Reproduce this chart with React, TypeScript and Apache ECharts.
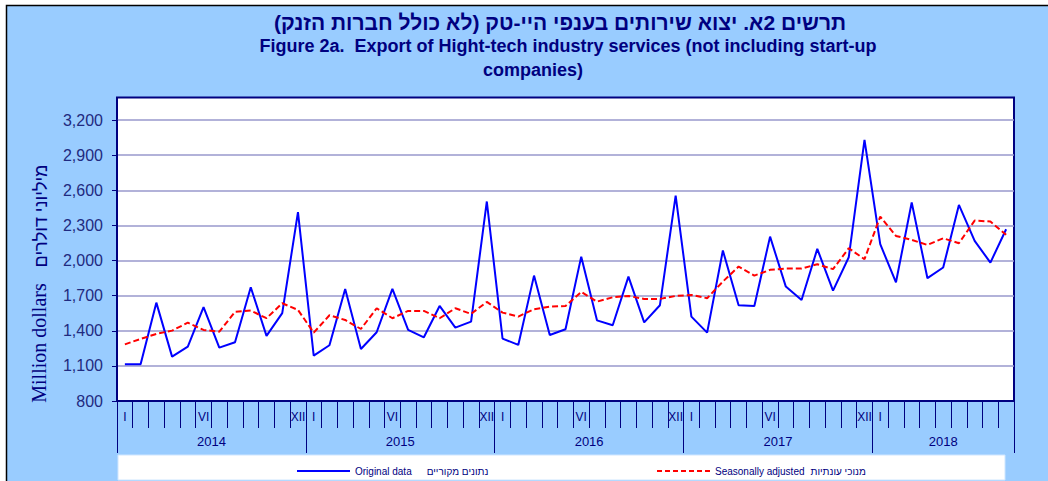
import React, { useEffect, useRef } from 'react';
import * as echarts from 'echarts';

// ---- data ----
const years = ['2014', '2015', '2016', '2017', '2018'];
const monthsPerYear = [12, 12, 12, 12, 9];
const monthTickLabels = ['I', '', '', '', '', 'VI', '', '', '', '', '', 'XII'];
const lastYearTickLabels = ['I', '', '', '', '', '', '', '', ''];

const originalData = [
  1113, 1113, 1640, 1179, 1264, 1601, 1256, 1302, 1772, 1356, 1550, 2413,
  1187, 1276, 1757, 1244, 1387, 1757, 1407, 1344, 1612, 1427, 1478, 2504,
  1333, 1279, 1871, 1364, 1413, 2033, 1489, 1447, 1862, 1472, 1618, 2555,
  1521, 1384, 2085, 1618, 1612, 2204, 1777, 1663, 2099, 1743, 2028, 3031,
  2139, 1814, 2495, 1849, 1940, 2475, 2168, 1982, 2267,
];

const seasonallyAdjusted = [
  1284, 1330, 1373, 1401, 1469, 1407, 1392, 1561, 1572, 1507, 1635, 1578,
  1384, 1532, 1492, 1415, 1592, 1507, 1569, 1569, 1507, 1592, 1544, 1646,
  1555, 1521, 1584, 1606, 1612, 1732, 1649, 1686, 1697, 1672, 1672, 1697,
  1706, 1678, 1820, 1948, 1871, 1920, 1931, 1931, 1968, 1926, 2105, 2011,
  2375, 2210, 2176, 2133, 2190, 2148, 2341, 2333, 2219,
];

const yMin = 800;
const yMax = 3200;
const yInterval = 300;

const titleHe = 'תרשים 2א. יצוא שירותים בענפי היי-טק (לא כולל חברות הזנק)';
const titleEn1 = 'Figure 2a.  Export of Hight-tech industry services (not including start-up';
const titleEn2 = 'companies)';
const yNameEn = 'Million dollars';
const yNameHe = 'מיליוני דולרים';
const legendHe = { 'Original data': 'נתונים מקוריים', 'Seasonally adjusted': 'מנוכי עונתיות' } as Record<string, string>;

// ---- derived ----
const months: string[] = [];
const monthLabels: string[] = [];
years.forEach((y, yi) => {
  const labs = yi === years.length - 1 ? lastYearTickLabels : monthTickLabels;
  for (let m = 0; m < monthsPerYear[yi]; m++) {
    months.push(`${y}-${m + 1}`);
    monthLabels.push(labs[m]);
  }
});
const halfCats = Array.from({ length: months.length * 2 + 1 }, (_, j) => String(j));
const yearBounds: number[] = [0];
monthsPerYear.forEach((n, i) => yearBounds.push(yearBounds[i] + n * 2));
const yearCenters = years.map((_, i) => (yearBounds[i] + yearBounds[i + 1]) / 2);

const NAVY = '#000080';
const FONT = 'Arial, "Liberation Sans", "DejaVu Sans", sans-serif';

const solidIcon = 'path://M0,0h53v2h-53z';
const dashedIcon = 'path://M0,0h5v2h-5z M8,0h5v2h-5z M16,0h5v2h-5z M24,0h5v2h-5z M32,0h5v2h-5z M40,0h5v2h-5z M48,0h5v2h-5z';

export default function App() {
  const ref = useRef<HTMLDivElement>(null);
  useEffect(() => {
    if (!ref.current) return;
    const chart = echarts.init(ref.current, undefined, { renderer: 'svg' });
    const rlm = '\u200F';
    chart.setOption({
      animation: false,
      backgroundColor: '#ffffff',
      grid: { left: 117, right: 34, top: 120, bottom: 80, containLabel: false },
      graphic: [
        { type: 'rect', z: -100, shape: { x: 6.5, y: 5.5, width: 1200, height: 600 }, style: { fill: '#99CCFF', stroke: '#000', lineWidth: 1.5 } },
        { type: 'rect', z: -50, shape: { x: 117, y: 97.5, width: 897, height: 303.5 }, style: { fill: '#ffffff', stroke: NAVY, lineWidth: 2 } },
        { type: 'rect', z: -50, shape: { x: 118, y: 455, width: 887, height: 25 }, style: { fill: '#ffffff', stroke: '#cfe6ff', lineWidth: 1 } },
        { type: 'text', x: 560, y: 22, style: { text: rlm + titleHe + rlm, fill: NAVY, font: `bold 21px ${FONT}`, align: 'center', verticalAlign: 'middle' } },
        { type: 'text', x: 568, y: 46, style: { text: titleEn1, fill: NAVY, font: `bold 18px ${FONT}`, align: 'center', verticalAlign: 'middle' } },
        { type: 'text', x: 533, y: 70, style: { text: titleEn2, fill: NAVY, font: `bold 18px ${FONT}`, align: 'center', verticalAlign: 'middle' } },
        { type: 'text', x: 39, y: 343, rotation: Math.PI / 2, style: { text: yNameEn, fill: NAVY, font: `20px "Liberation Serif", "Times New Roman", serif`, align: 'center', verticalAlign: 'middle' } },
        { type: 'text', x: 41, y: 216, rotation: Math.PI / 2, style: { text: yNameHe, fill: NAVY, font: `18px ${FONT}`, align: 'center', verticalAlign: 'middle' } },
      ],
      legend: [
        {
          data: ['Original data'], left: 292, top: 461, itemWidth: 53, itemHeight: 2, itemGap: 0,
          icon: solidIcon,
          textStyle: { color: NAVY, fontFamily: FONT, fontSize: 10, rich: { he: { padding: [0, 0, 0, 15], fontSize: 10, color: NAVY, fontFamily: FONT } } },
          formatter: (name: string) => `${name}{he|${legendHe[name]}}`,
        },
        {
          data: ['Seasonally adjusted'], left: 652, top: 461, itemWidth: 53, itemHeight: 2, itemGap: 0,
          icon: dashedIcon,
          textStyle: { color: NAVY, fontFamily: FONT, fontSize: 10, rich: { he: { padding: [0, 0, 0, 6], fontSize: 10, color: NAVY, fontFamily: FONT } } },
          formatter: (name: string) => `${name}{he|${legendHe[name]}}`,
        },
      ],
      xAxis: [
        {
          type: 'category',
          data: months,
          boundaryGap: true,
          axisLine: { show: true, lineStyle: { color: NAVY, width: 2 } },
          axisTick: { show: true, interval: 0, length: 27, lineStyle: { color: NAVY, width: 1 } },
          axisLabel: {
            interval: 0,
            margin: 10,
            color: NAVY,
            fontFamily: FONT,
            fontSize: 12,
            formatter: (v: string) => monthLabels[months.indexOf(v)] ?? '',
          },
          splitLine: { show: false },
        },
        {
          type: 'category',
          data: halfCats,
          boundaryGap: false,
          position: 'bottom',
          axisLine: { show: false },
          axisTick: { show: true, length: 52, interval: (i: number) => yearBounds.includes(i), lineStyle: { color: NAVY, width: 1 } },
          axisLabel: {
            margin: 34,
            color: NAVY,
            fontFamily: FONT,
            fontSize: 13,
            interval: (i: number) => yearCenters.includes(i),
            formatter: (v: string) => {
              const k = yearCenters.indexOf(Number(v));
              return k >= 0 ? years[k] : '';
            },
          },
          splitLine: { show: false },
        },
      ],
      yAxis: {
        type: 'value',
        min: yMin,
        max: yMax,
        interval: yInterval,
        axisLine: { show: true, lineStyle: { color: NAVY, width: 2 } },
        axisTick: { show: true, length: 5, lineStyle: { color: NAVY } },
        axisLabel: {
          margin: 14,
          color: '#1f2a80',
          fontFamily: FONT,
          fontSize: 16,
          formatter: (v: number) => v.toLocaleString('en-US'),
        },
        splitLine: { show: true, lineStyle: { color: '#9999cc', width: 1.5 } },
      },
      series: [
        {
          name: 'Original data',
          type: 'line',
          xAxisIndex: 0,
          data: originalData,
          symbol: 'none',
          lineStyle: { color: '#0000ff', width: 2 },
          itemStyle: { color: '#0000ff' },
          z: 3,
        },
        {
          name: 'Seasonally adjusted',
          type: 'line',
          xAxisIndex: 0,
          data: seasonallyAdjusted,
          symbol: 'none',
          lineStyle: { color: '#ff0000', width: 2, type: [6, 3] },
          itemStyle: { color: '#ff0000' },
          z: 4,
        },
      ],
    });
    return () => chart.dispose();
  }, []);
  return <div ref={ref} style={{ position: 'absolute', left: 0, top: 0, width: 1048, height: 481 }} />;
}
